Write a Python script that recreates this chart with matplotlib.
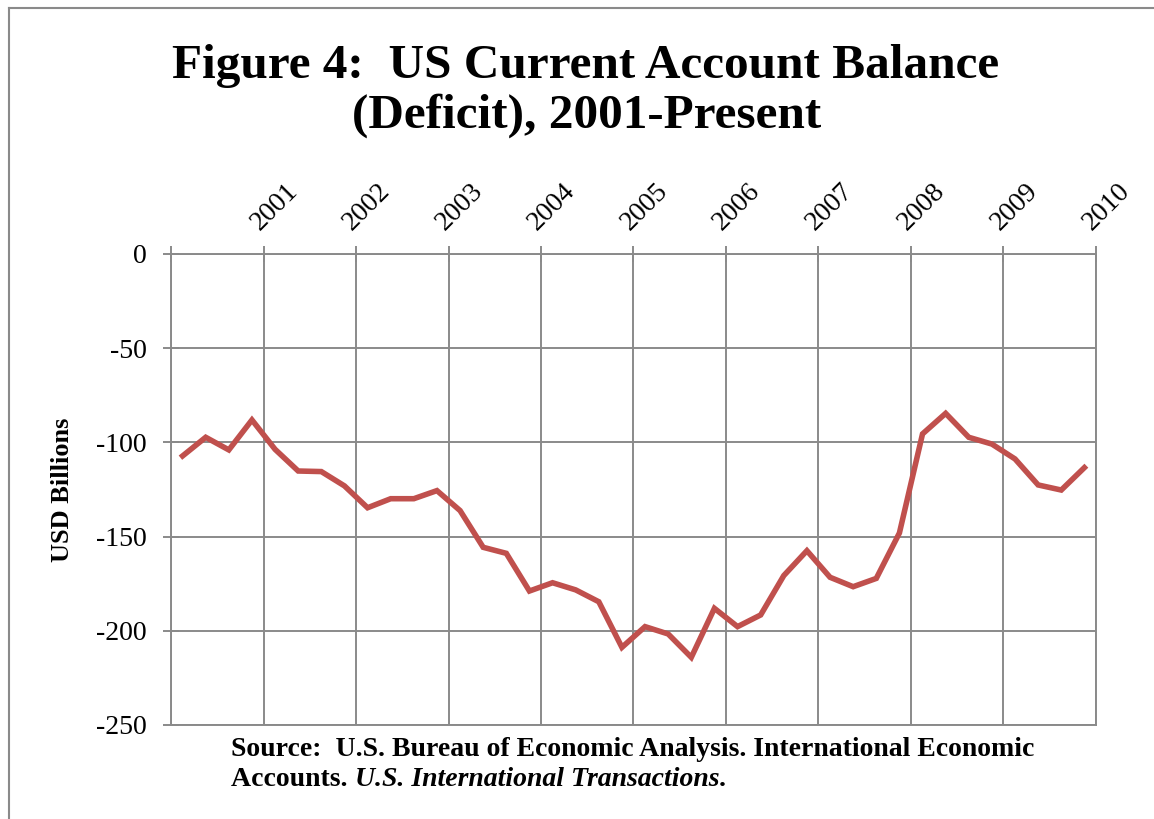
import matplotlib
matplotlib.use("Agg")
import matplotlib.pyplot as plt
import matplotlib.transforms as mtransforms
from matplotlib.lines import Line2D

# Quarterly US current account balance, USD billions
balance = [-107.2, -97.3, -104.0, -88.1,
           -103.7, -115.2, -115.5, -123.1,
           -134.7, -129.9, -129.9, -125.6,
           -136.2, -155.7, -158.9, -178.9,
           -174.5, -178.3, -184.6, -208.8,
           -197.8, -201.7, -214.1, -188.1,
           -197.8, -191.6, -170.7, -157.5,
           -171.6, -176.6, -172.2, -148.1,
           -95.5, -84.6, -97.3, -100.9,
           -108.8, -122.6, -125.3, -113.4]
year_labels = ["2001", "2002", "2003", "2004", "2005",
               "2006", "2007", "2008", "2009", "2010"]
y_ticks = [0, -50, -100, -150, -200, -250]

GRID = "#8a8a8a"
LINE = "#C0504D"
SERIF = ["Liberation Serif", "DejaVu Serif"]

plt.rcParams['font.family'] = SERIF

fig = plt.figure(figsize=(11.54, 8.19), dpi=100)
ax = fig.add_axes([0.1482, 0.1148, 0.8015, 0.5751])

xs = [i + 0.5 for i in range(len(balance))]
ax.plot(xs, balance, color=LINE, lw=4, solid_joinstyle='miter', zorder=3)

ax.set_xlim(0, len(balance))
ax.set_ylim(-250, 0)

# category axis on top, one tick every 4 quarters; labels drawn as text
ax.xaxis.tick_top()
tick_pos = list(range(0, len(balance) + 1, 4))
ax.set_xticks(tick_pos)
ax.set_xticklabels([])
lab_tr = mtransforms.blended_transform_factory(ax.transData, ax.transAxes) + \
    mtransforms.ScaledTranslation(11 / 100, 19 / 100, fig.dpi_scale_trans)
for pos, yr in zip(tick_pos[1:], year_labels):
    ax.text(pos, 1, yr, transform=lab_tr, rotation=45, ha='center', va='bottom',
            fontsize=20, clip_on=False)

ax.set_yticks(y_ticks)
ax.set_yticklabels([str(v) for v in y_ticks], fontsize=20)

ax.tick_params(axis='both', direction='inout', length=11, width=1.4, color=GRID)
ax.tick_params(axis='y', pad=12)

ax.grid(True, color=GRID, lw=1.4, zorder=0)
for sp in ax.spines.values():
    sp.set_color(GRID)
    sp.set_linewidth(1.4)

ax.set_ylabel("USD Billions", fontsize=19, fontweight='bold', labelpad=16)

# title
fig.text(0.507, 1 - 78 / 819, "Figure 4:  US Current Account Balance",
         ha='center', va='baseline', fontsize=35.5, fontweight='bold')
fig.text(0.508, 1 - 128 / 819, "(Deficit), 2001-Present",
         ha='center', va='baseline', fontsize=35.5, fontweight='bold')

# source note
src1 = fig.text(0.2002, 1 - 756 / 819,
                "Source:  U.S. Bureau of Economic Analysis. International Economic",
                fontsize=20, fontweight='bold', va='baseline')
a1 = fig.text(0.2002, 1 - 786 / 819, "Accounts. ", fontsize=20, fontweight='bold', va='baseline')
a2 = plt.annotate("U.S. International Transactions", xy=(1, 0), xycoords=a1,
                  fontsize=20, fontweight='bold', style='italic', va='bottom')
a3 = plt.annotate(".", xy=(1, 0), xycoords=a2, fontsize=20, fontweight='bold', va='bottom')

# chart frame (left and top edges visible)
fig.add_artist(Line2D([9 / 1154, 9 / 1154], [0, 1 - 8 / 819], transform=fig.transFigure,
                      color=GRID, lw=1.5))
fig.add_artist(Line2D([9 / 1154, 1], [1 - 8 / 819, 1 - 8 / 819], transform=fig.transFigure,
                      color=GRID, lw=1.5))

fig.savefig("out.png", dpi=100)
